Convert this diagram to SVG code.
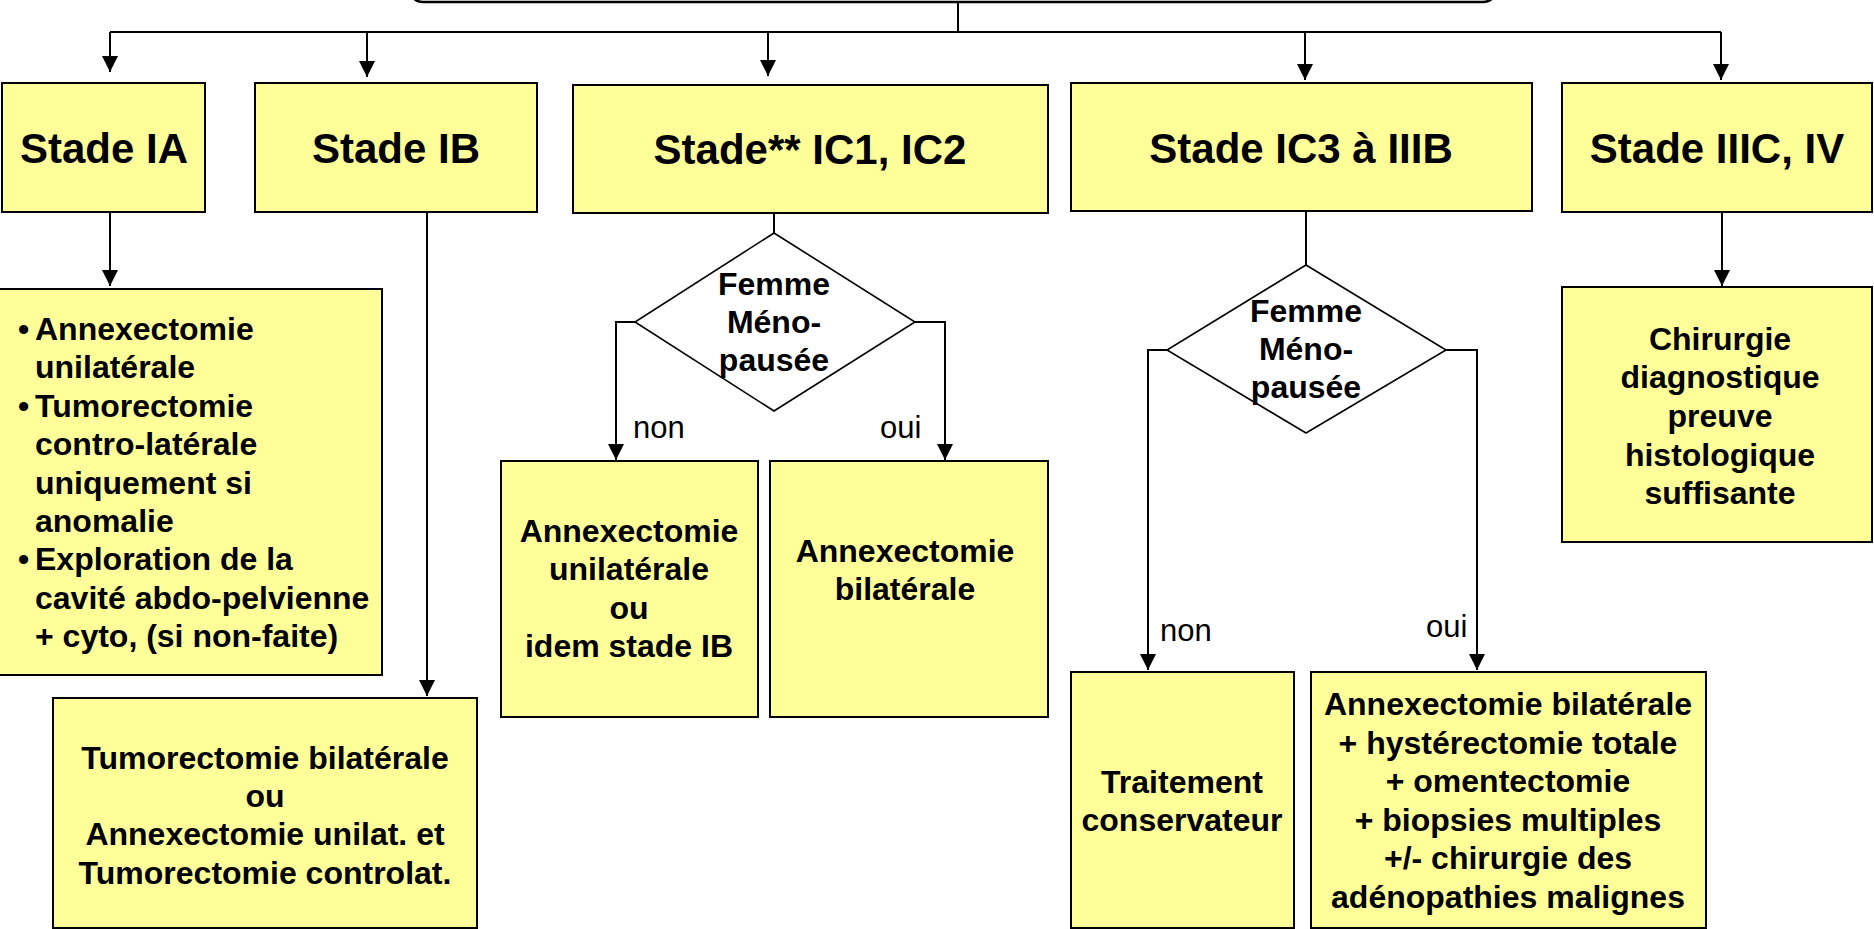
<svg xmlns="http://www.w3.org/2000/svg" width="1874" height="929" viewBox="0 0 1874 929">
<defs>
<marker id="arr" markerUnits="userSpaceOnUse" markerWidth="18" markerHeight="18" refX="16" refY="8" orient="auto">
<path d="M0,0 L16,8 L0,16 z" fill="#000"/>
</marker>
<style>
.box{fill:#FFFF99;stroke:#000;stroke-width:2}
.dia{fill:#fff;stroke:#000;stroke-width:1.6}
.con{fill:none;stroke:#000;stroke-width:2}
.arr{marker-end:url(#arr)}
.h{font-family:"Liberation Sans",Arial,sans-serif;font-weight:bold;font-size:42px;text-anchor:middle;fill:#000}
.t{font-family:"Liberation Sans",Arial,sans-serif;font-weight:bold;font-size:32px;text-anchor:middle;fill:#000}
.tl{font-family:"Liberation Sans",Arial,sans-serif;font-weight:bold;font-size:32px;fill:#000}
.lab{font-family:"Liberation Sans",Arial,sans-serif;font-size:31px;fill:#000}
</style>
</defs>
<rect width="1874" height="929" fill="#fff"/>

<g id="top">
<rect x="409" y="-40" width="1088" height="42" rx="14" fill="#fff" stroke="#000" stroke-width="2.5"/>
</g>

<g id="connectors">
<path class="con" d="M958,2 V32"/>
<path class="con" d="M110,32 H1721"/>
<path class="con arr" d="M110,32 V72"/>
<path class="con arr" d="M367,33 V77"/>
<path class="con arr" d="M768,32 V76"/>
<path class="con arr" d="M1305,33 V80"/>
<path class="con arr" d="M1721,32 V80"/>
<path class="con arr" d="M110,212 V286"/>
<path class="con arr" d="M427,212 V696"/>
<path class="con" d="M774,213 V233"/>
<path class="con arr" d="M635,322 H616 V460"/>
<path class="con arr" d="M915,322 H945 V460"/>
<path class="con" d="M1306,211 V265"/>
<path class="con arr" d="M1167,350 H1148 V670"/>
<path class="con arr" d="M1446,350 H1477 V670"/>
<path class="con arr" d="M1722,212 V286"/>
<text class="lab" x="633" y="438">non</text>
<text class="lab" x="880" y="438">oui</text>
<text class="lab" x="1160" y="641">non</text>
<text class="lab" x="1426" y="637">oui</text>
</g>

<g id="stadeIA">
<rect class="box" x="2" y="83" width="203" height="129"/>
<text class="h" x="104" y="163">Stade IA</text>
</g>
<g id="stadeIB">
<rect class="box" x="255" y="83" width="282" height="129"/>
<text class="h" x="396" y="163">Stade IB</text>
</g>
<g id="stadeIC1">
<rect class="box" x="573" y="85" width="475" height="128"/>
<text class="h" x="810" y="164">Stade** IC1, IC2</text>
</g>
<g id="stadeIC3">
<rect class="box" x="1071" y="83" width="461" height="128"/>
<text class="h" x="1301" y="163">Stade IC3 à IIIB</text>
</g>
<g id="stadeIIIC">
<rect class="box" x="1562" y="83" width="310" height="129"/>
<text class="h" x="1717" y="163">Stade IIIC, IV</text>
</g>

<g id="iaDetail">
<rect class="box" x="-2" y="289" width="384" height="386"/>
<text class="tl" x="18" y="340">•</text>
<text class="tl" x="35" y="340">Annexectomie</text>
<text class="tl" x="35" y="378.4">unilatérale</text>
<text class="tl" x="18" y="416.8">•</text>
<text class="tl" x="35" y="416.8">Tumorectomie</text>
<text class="tl" x="35" y="455.2">contro-latérale</text>
<text class="tl" x="35" y="493.6">uniquement si</text>
<text class="tl" x="35" y="532">anomalie</text>
<text class="tl" x="18" y="570.4">•</text>
<text class="tl" x="35" y="570.4">Exploration de la</text>
<text class="tl" x="35" y="608.8">cavité abdo-pelvienne</text>
<text class="tl" x="35" y="647.2">+ cyto, (si non-faite)</text>
</g>

<g id="ibDetail">
<rect class="box" x="53" y="698" width="424" height="230"/>
<text class="t" x="265" y="768.6">Tumorectomie bilatérale</text>
<text class="t" x="265" y="807">ou</text>
<text class="t" x="265" y="845.4">Annexectomie unilat. et</text>
<text class="t" x="265" y="883.8">Tumorectomie controlat.</text>
</g>

<g id="diamond1">
<polygon class="dia" points="774,233 915,322 774,411 635,322"/>
<text class="t" x="774" y="295">Femme</text>
<text class="t" x="774" y="333">Méno-</text>
<text class="t" x="774" y="371">pausée</text>
</g>

<g id="ic1Non">
<rect class="box" x="501" y="461" width="257" height="256"/>
<text class="t" x="629" y="542">Annexectomie</text>
<text class="t" x="629" y="580.4">unilatérale</text>
<text class="t" x="629" y="618.8">ou</text>
<text class="t" x="629" y="657.2">idem stade IB</text>
</g>

<g id="ic1Oui">
<rect class="box" x="770" y="461" width="278" height="256"/>
<text class="t" x="905" y="561.7">Annexectomie</text>
<text class="t" x="905" y="600">bilatérale</text>
</g>

<g id="diamond2">
<polygon class="dia" points="1306,265 1446,350 1306,433 1167,350"/>
<text class="t" x="1306" y="322">Femme</text>
<text class="t" x="1306" y="360.4">Méno-</text>
<text class="t" x="1306" y="398">pausée</text>
</g>

<g id="ic3Non">
<rect class="box" x="1071" y="672" width="223" height="256"/>
<text class="t" x="1182" y="792.7">Traitement</text>
<text class="t" x="1182" y="831.3">conservateur</text>
</g>

<g id="ic3Oui">
<rect class="box" x="1311" y="672" width="395" height="256"/>
<text class="t" x="1508" y="715">Annexectomie bilatérale</text>
<text class="t" x="1508" y="753.6">+ hystérectomie totale</text>
<text class="t" x="1508" y="792.2">+ omentectomie</text>
<text class="t" x="1508" y="830.8">+ biopsies multiples</text>
<text class="t" x="1508" y="869.4">+/- chirurgie des</text>
<text class="t" x="1508" y="908">adénopathies malignes</text>
</g>

<g id="iiicDetail">
<rect class="box" x="1562" y="287" width="310" height="255"/>
<text class="t" x="1720" y="349.7">Chirurgie</text>
<text class="t" x="1720" y="388.3">diagnostique</text>
<text class="t" x="1720" y="426.9">preuve</text>
<text class="t" x="1720" y="465.5">histologique</text>
<text class="t" x="1720" y="504">suffisante</text>
</g>
</svg>
